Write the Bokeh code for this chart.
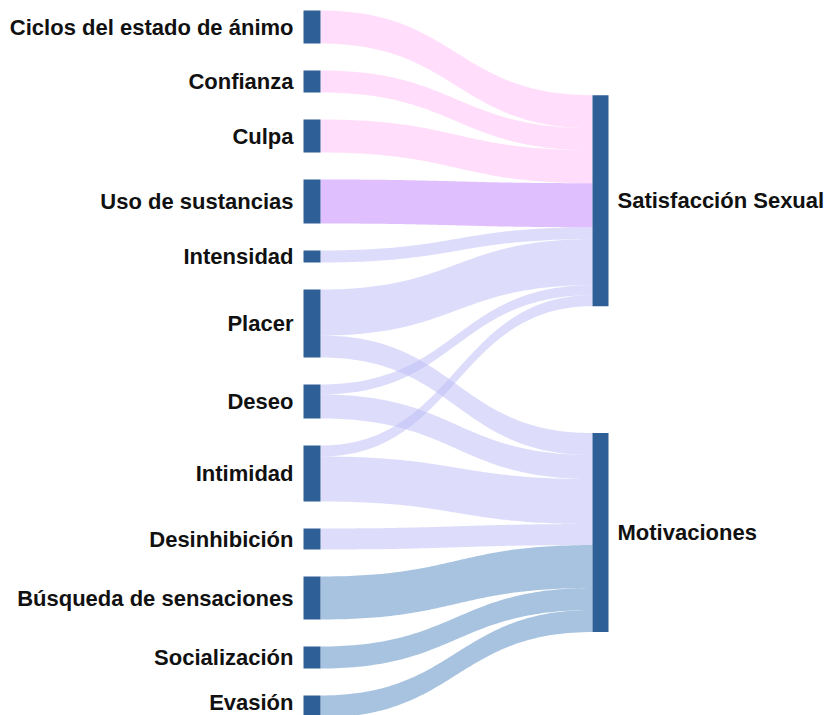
import numpy as np
from bokeh.plotting import figure
from bokeh.models import Range1d
from bokeh.embed import file_html
from bokeh.resources import INLINE
from bokeh.core.properties import value

# ---------------- data ----------------
left_nodes = ["Ciclos del estado de ánimo", "Confianza", "Culpa", "Uso de sustancias",
              "Intensidad", "Placer", "Deseo", "Intimidad", "Desinhibición",
              "Búsqueda de sensaciones", "Socialización", "Evasión"]
right_nodes = ["Satisfacción Sexual", "Motivaciones"]

link_source = ["Ciclos del estado de ánimo", "Confianza", "Culpa", "Uso de sustancias",
               "Intensidad", "Placer", "Placer", "Deseo", "Deseo", "Intimidad", "Intimidad",
               "Desinhibición", "Búsqueda de sensaciones", "Socialización", "Evasión"]
link_target = ["Satisfacción Sexual", "Satisfacción Sexual", "Satisfacción Sexual",
               "Satisfacción Sexual", "Satisfacción Sexual", "Satisfacción Sexual",
               "Motivaciones", "Satisfacción Sexual", "Motivaciones", "Satisfacción Sexual",
               "Motivaciones", "Motivaciones", "Motivaciones", "Motivaciones", "Motivaciones"]
link_value = [33, 22, 33, 44, 12, 46, 22, 10, 24, 11, 45, 21, 43, 22, 22]

# ---------------- styles / layout ----------------
group_color = {
    "Ciclos del estado de ánimo": "#FFBBF7", "Confianza": "#FFBBF7", "Culpa": "#FFBBF7",
    "Uso de sustancias": "#BF7FFD",
    "Intensidad": "#BBBBF7", "Placer": "#BBBBF7", "Deseo": "#BBBBF7",
    "Intimidad": "#BBBBF7", "Desinhibición": "#BBBBF7",
    "Búsqueda de sensaciones": "#4F87C1", "Socialización": "#4F87C1", "Evasión": "#4F87C1",
}
NODE_COLOR = "#2E5F96"
LINK_ALPHA = 0.5
SCALE = 1.0          # px per unit
GAP = 27
TOP = 10
LX0, LX1 = 303, 320  # left node column
RX0, RX1 = 592, 608  # right node column
FONT = value("Liberation Sans")

W, H = 827, 715
p = figure(width=W, height=H, output_backend="svg", toolbar_location=None,
           x_range=Range1d(0, W), y_range=Range1d(H, 0),
           min_border=0, outline_line_color=None)
p.axis.visible = False
p.grid.visible = False
p.background_fill_color = "white"
p.border_fill_color = "white"

# left node layout
tot_left = {n: 0.0 for n in left_nodes}
tot_right = {n: 0.0 for n in right_nodes}
for s, t, v in zip(link_source, link_target, link_value):
    tot_left[s] += v * SCALE
    tot_right[t] += v * SCALE

ltop = {}
y = TOP
for n in left_nodes:
    ltop[n] = y
    y += tot_left[n] + GAP

# link start positions at the sources (stacked in target order)
s_off = dict(ltop)
link_sy = []
for s, v in zip(link_source, link_value):
    link_sy.append(s_off[s])
    s_off[s] += v * SCALE

# right nodes: placed at value-weighted centre of their incoming links
rtop = {}
for t in right_nodes:
    num = sum(v * (sy + v * SCALE / 2) for sy, tt, v in zip(link_sy, link_target, link_value) if tt == t)
    den = sum(v for tt, v in zip(link_target, link_value) if tt == t)
    rtop[t] = num / den - tot_right[t] / 2

# links
t_off = dict(rtop)
xs_list, ys_list, cols = [], [], []
tt = np.linspace(0, 1, 80)
xm = (LX1 + RX0) / 2
bx = (1 - tt) ** 3 * LX1 + 3 * (1 - tt) ** 2 * tt * xm + 3 * (1 - tt) * tt ** 2 * xm + tt ** 3 * RX0


def curve(y0, y1):
    return (1 - tt) ** 3 * y0 + 3 * (1 - tt) ** 2 * tt * y0 + 3 * (1 - tt) * tt ** 2 * y1 + tt ** 3 * y1


for s, t, v, sy0 in zip(link_source, link_target, link_value, link_sy):
    h = v * SCALE
    ty0 = t_off[t]
    t_off[t] += h
    top = curve(sy0, ty0)
    bot = curve(sy0 + h, ty0 + h)
    xs_list.append(list(bx) + list(bx[::-1]))
    ys_list.append(list(top) + list(bot[::-1]))
    cols.append(group_color[s])

p.patches(xs=xs_list, ys=ys_list, fill_color=cols, fill_alpha=LINK_ALPHA, line_color=None)

# nodes
p.quad(left=[LX0] * len(left_nodes), right=[LX1] * len(left_nodes),
       top=[ltop[n] for n in left_nodes], bottom=[ltop[n] + tot_left[n] for n in left_nodes],
       fill_color=NODE_COLOR, line_color=None)
p.quad(left=[RX0] * len(right_nodes), right=[RX1] * len(right_nodes),
       top=[rtop[n] for n in right_nodes], bottom=[rtop[n] + tot_right[n] for n in right_nodes],
       fill_color=NODE_COLOR, line_color=None)

# labels (kept inside the canvas)
left_label_y = [min(ltop[n] + tot_left[n] / 2, H - 13) for n in left_nodes]
p.text(x=[LX0 - 10] * len(left_nodes), y=left_label_y,
       text=left_nodes, text_align="right", text_baseline="middle",
       text_font=FONT, text_font_style="bold", text_font_size="22px", text_color="#111111")
p.text(x=[RX1 + 9] * len(right_nodes), y=[rtop[n] + tot_right[n] / 2 for n in right_nodes],
       text=right_nodes, text_align="left", text_baseline="middle",
       text_font=FONT, text_font_style="bold", text_font_size="22px", text_color="#111111")

open("out.html", "w").write(file_html(p, INLINE))
